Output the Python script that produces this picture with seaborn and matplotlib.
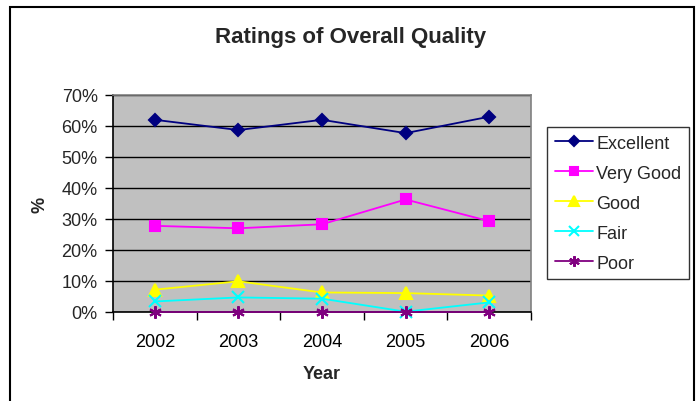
import matplotlib
matplotlib.use("Agg")
import matplotlib.pyplot as plt
import seaborn as sns
import pandas as pd
from matplotlib.ticker import FixedLocator, PercentFormatter
from matplotlib.patches import Rectangle

years = ["2002", "2003", "2004", "2005", "2006"]
excellent = [62, 58.7, 62, 57.7, 63]
very_good = [27.8, 27.0, 28.3, 36.3, 29.3]
good = [7.2, 9.9, 6.3, 6.1, 5.3]
fair = [3.4, 4.7, 4.3, 0.1, 3.1]
poor = [0, 0, 0, 0, 0]
series_names = ["Excellent", "Very Good", "Good", "Fair", "Poor"]
series_values = [excellent, very_good, good, fair, poor]

rows = []
for name, vals in zip(series_names, series_values):
    for i, (y, v) in enumerate(zip(years, vals)):
        rows.append({"pos": i, "Year": y, "value": v, "series": name})
df = pd.DataFrame(rows)

sns.set_theme(style="white")
plt.rcParams["font.family"] = ["Liberation Sans", "DejaVu Sans"]

colors = {"Excellent": "#000080", "Very Good": "#FF00FF", "Good": "#FFFF00",
          "Fair": "#00FFFF", "Poor": "#800080"}
markers = {"Excellent": "D", "Very Good": "s", "Good": "^", "Fair": "x",
           "Poor": (6, 2, 0)}
msizes = {"Excellent": 6.5, "Very Good": 7, "Good": 8, "Fair": 8, "Poor": 9}

fig = plt.figure(figsize=(7.0, 4.02), dpi=100)
ax = fig.add_axes([113/700, 1-313/402, (531-113)/700, (313-96)/402])
ax.set_facecolor("#C0C0C0")

for name in series_names:
    sub = df[df["series"] == name]
    sns.lineplot(data=sub, x="pos", y="value", ax=ax, color=colors[name],
                 marker=markers[name], markersize=msizes[name],
                 markeredgecolor=colors[name], markerfacecolor=colors[name],
                 markeredgewidth=1.5, linewidth=1.3, label=name,
                 clip_on=False, zorder=3)

ax.set_xlim(-0.5, 4.5)
ax.set_ylim(0, 70)
ax.set_xticks(range(len(years)))
ax.set_xticklabels(years)
ax.xaxis.set_minor_locator(FixedLocator([-0.5, 0.5, 1.5, 2.5, 3.5, 4.5]))
ax.tick_params(axis="x", which="major", length=0, pad=15, labelsize=13, colors="black")
ax.tick_params(axis="x", which="minor", length=6, width=1, color="black", direction="out", bottom=True)
ax.set_yticks(range(0, 71, 10))
ax.yaxis.set_major_formatter(PercentFormatter(decimals=0))
ax.tick_params(axis="y", length=6, width=1, color="black", direction="out", left=True, labelsize=13, pad=5)
ax.grid(axis="y", color="black", linewidth=1)
ax.grid(axis="x", visible=False)
ax.set_axisbelow(True)
for s in ["top", "right"]:
    ax.spines[s].set_color("#808080")
    ax.spines[s].set_linewidth(1.2)
for s in ["left", "bottom"]:
    ax.spines[s].set_color("black")
    ax.spines[s].set_linewidth(1.2)

ax.set_xlabel("Year", fontsize=13, fontweight="bold", labelpad=11)
ax.set_ylabel("%", fontsize=13, fontweight="bold", labelpad=9)

fig.text(351/700, 1-37/402, "Ratings of Overall Quality", ha="center", va="center",
         fontsize=16, fontweight="bold")

leg = ax.legend(loc="upper left", bbox_to_anchor=(547/700, 1-128/402),
                bbox_transform=fig.transFigure, frameon=True, fancybox=False,
                fontsize=13, handlelength=2.1, labelspacing=0.72,
                borderpad=0.42, handletextpad=0.22, borderaxespad=0,
                markerscale=0.85)
leg.get_frame().set_edgecolor("black")
leg.get_frame().set_linewidth(1)

fig.patches.append(Rectangle((10/700, -0.05), (694-10)/700, 1-8/402+0.05,
                             transform=fig.transFigure, fill=False,
                             edgecolor="black", linewidth=1.5))

fig.savefig("out.png", dpi=100)
